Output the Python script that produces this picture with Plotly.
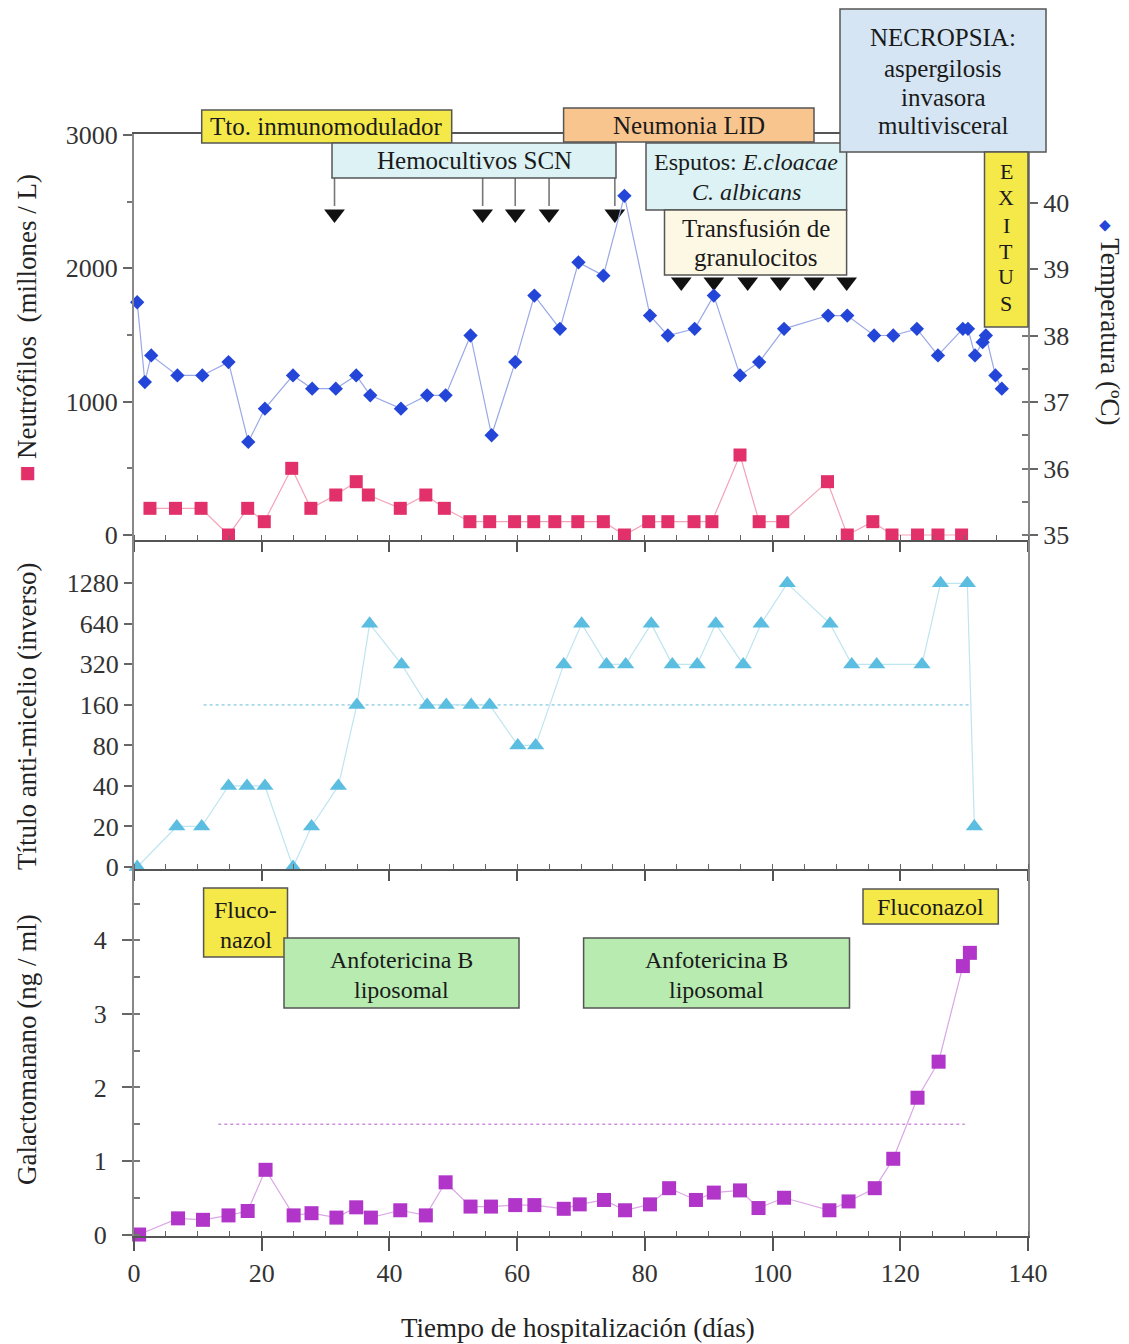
import plotly.graph_objects as go

# ---------------- DATA ----------------
# Temperatura (ºC) - panel superior, eje derecho
temp_dias = [0.5, 1.7, 2.7, 6.8, 10.7, 14.8, 17.9, 20.5, 24.9, 27.9, 31.6, 34.8, 37.0, 41.8, 45.9,
             48.8, 52.7, 56.0, 59.7, 62.7, 66.7, 69.6, 73.5, 76.8, 80.8, 83.6, 87.8, 90.8, 94.9,
             97.9, 101.8, 108.7, 111.7, 115.9, 118.9, 122.6, 125.9, 129.8, 130.6, 131.7, 132.9,
             133.4, 134.9, 135.9]
temperatura = [38.5, 37.3, 37.7, 37.4, 37.4, 37.6, 36.4, 36.9, 37.4, 37.2, 37.2, 37.4, 37.1, 36.9,
               37.1, 37.1, 38.0, 36.5, 37.6, 38.6, 38.1, 39.1, 38.9, 40.1, 38.3, 38.0, 38.1, 38.6,
               37.4, 37.6, 38.1, 38.3, 38.3, 38.0, 38.0, 38.1, 37.7, 38.1, 38.1, 37.7, 37.9, 38.0,
               37.4, 37.2]

# Neutrófilos (millones / L) - panel superior, eje izquierdo
neut_dias = [2.5, 6.5, 10.5, 14.8, 17.8, 20.4, 24.7, 27.7, 31.6, 34.8, 36.7, 41.7, 45.7, 48.6,
             52.6, 55.7, 59.6, 62.6, 65.9, 69.5, 73.5, 76.8, 80.6, 83.6, 87.7, 90.5, 94.9, 97.9,
             101.6, 108.6, 111.7, 115.7, 118.7, 122.7, 125.9, 129.6]
neutrofilos = [200, 200, 200, 0, 200, 100, 500, 200, 300, 400, 300, 200, 300, 200, 100, 100, 100,
               100, 100, 100, 100, 0, 100, 100, 100, 100, 600, 100, 100, 400, 0, 100, 0, 0, 0, 0]

# Título anti-micelio (inverso) - panel central
titulo_ticks = ["0", "20", "40", "80", "160", "320", "640", "1280"]
tit_dias = [0.5, 6.7, 10.6, 14.8, 17.7, 20.5, 24.9, 27.8, 32.0, 34.9, 36.9, 41.9, 45.9, 48.9, 52.8,
            55.7, 60.1, 62.9, 67.3, 70.1, 74.0, 77.0, 81.0, 84.3, 88.2, 91.1, 95.4, 98.2, 102.3,
            109.0, 112.4, 116.3, 123.4, 126.3, 130.5, 131.6]
titulo = ["0", "20", "20", "40", "40", "40", "0", "20", "40", "160", "640", "320", "160", "160",
          "160", "160", "80", "80", "320", "640", "320", "320", "640", "320", "320", "640", "320",
          "640", "1280", "640", "320", "320", "320", "1280", "1280", "20"]
umbral_titulo = "160"
umbral_titulo_dias = [10.9, 131.2]

# Galactomanano (ng / ml) - panel inferior
gal_dias = [0.8, 6.9, 10.8, 14.8, 17.8, 20.6, 25.0, 27.8, 31.7, 34.8, 37.1, 41.7, 45.7, 48.8, 52.7,
            55.9, 59.7, 62.7, 67.3, 69.8, 73.6, 76.9, 80.8, 83.8, 88.0, 90.8, 94.9, 97.8, 101.8,
            108.9, 111.9, 116.0, 118.9, 122.7, 126.0, 129.8, 130.9]
galactomanano = [0.0, 0.22, 0.20, 0.26, 0.32, 0.88, 0.26, 0.29, 0.23, 0.37, 0.23, 0.33, 0.26, 0.71,
                 0.38, 0.38, 0.40, 0.40, 0.35, 0.41, 0.47, 0.33, 0.41, 0.63, 0.47, 0.57, 0.60,
                 0.36, 0.50, 0.33, 0.45, 0.63, 1.03, 1.86, 2.35, 3.65, 3.83]
umbral_galacto = 1.5
umbral_galacto_dias = [13.2, 130.1]

# Eventos
hemocultivos_dias = [31.4, 54.6, 59.7, 65.0, 75.3]
transfusion_dias = [85.7, 90.8, 96.1, 101.2, 106.5, 111.6]

x_ticks = [0, 20, 40, 60, 80, 100, 120, 140]
neut_ticks = [0, 1000, 2000, 3000]
temp_ticks = [35, 36, 37, 38, 39, 40]
gal_ticks = [0, 1, 2, 3, 4]

# ---------------- LAYOUT HELPERS ----------------
FONT = "Liberation Serif, Times New Roman, serif"
W, H = 1129, 1344
L, R, T, B = 134, 1028, 134, 1236   # plot-area pixel edges


def px(x):
    return (x - L) / (R - L)


def py(y):
    return (B - y) / (B - T)


X_RANGE = [0, 140]
NEUT_RANGE = [-37.5, 3007.5]
TEMP_RANGE = [34.925, 41.03]
TIT_RANGE = [-0.05, 8.07]
GAL_RANGE = [-0.02, 4.97]
TOP_PX = (134, 540)


def neut_at(ypix):
    return NEUT_RANGE[0] + (TOP_PX[1] - ypix) / (TOP_PX[1] - TOP_PX[0]) * (NEUT_RANGE[1] - NEUT_RANGE[0])


C_TEMP = "#2446d8"
C_TEMP_L = "#9aa8e6"
C_NEUT = "#e2306a"
C_NEUT_L = "#f3a3b8"
C_TIT = "#5bbde0"
C_TIT_L = "#bfe5f0"
C_GAL = "#b035c8"
C_GAL_L = "#dba6e6"

fig = go.Figure()

fig.add_trace(go.Scatter(x=temp_dias, y=temperatura, xaxis="x", yaxis="y4", mode="lines+markers",
                         line=dict(color=C_TEMP_L, width=1.2),
                         marker=dict(symbol="diamond", size=11, color=C_TEMP),
                         cliponaxis=False, showlegend=False))
fig.add_trace(go.Scatter(x=neut_dias, y=neutrofilos, xaxis="x", yaxis="y", mode="lines+markers",
                         line=dict(color=C_NEUT_L, width=1.2),
                         marker=dict(symbol="square", size=13, color=C_NEUT),
                         cliponaxis=False, showlegend=False))
fig.add_trace(go.Scatter(x=hemocultivos_dias, y=[neut_at(214)] * len(hemocultivos_dias),
                         xaxis="x", yaxis="y", mode="markers",
                         marker=dict(symbol="triangle-down", size=18, color="#111"),
                         cliponaxis=False, showlegend=False))
fig.add_trace(go.Scatter(x=transfusion_dias, y=[neut_at(282)] * len(transfusion_dias),
                         xaxis="x", yaxis="y", mode="markers",
                         marker=dict(symbol="triangle-down", size=18, color="#111"),
                         cliponaxis=False, showlegend=False))

fig.add_trace(go.Scatter(x=umbral_titulo_dias, y=[umbral_titulo] * 2, xaxis="x2", yaxis="y2",
                         mode="lines", line=dict(color="#a6d9ea", width=1.6, dash="dot"),
                         showlegend=False))
fig.add_trace(go.Scatter(x=tit_dias, y=titulo, xaxis="x2", yaxis="y2", mode="lines+markers",
                         line=dict(color=C_TIT_L, width=1.2),
                         marker=dict(symbol="triangle-up", size=15, color=C_TIT),
                         cliponaxis=False, showlegend=False))

fig.add_trace(go.Scatter(x=umbral_galacto_dias, y=[umbral_galacto] * 2, xaxis="x3", yaxis="y3",
                         mode="lines", line=dict(color="#cf8fdc", width=1.6, dash="dot"),
                         showlegend=False))
fig.add_trace(go.Scatter(x=gal_dias, y=galactomanano, xaxis="x3", yaxis="y3", mode="lines+markers",
                         line=dict(color=C_GAL_L, width=1.2),
                         marker=dict(symbol="square", size=14, color=C_GAL),
                         cliponaxis=False, showlegend=False))

tickfont = dict(family=FONT, size=26, color="#333")
xcommon = dict(range=X_RANGE, tickvals=x_ticks, showgrid=False, zeroline=False,
               showline=True, linecolor="#555", linewidth=2,
               ticks="outside", ticklen=10, tickwidth=1.5, tickcolor="#555",
               minor=dict(dtick=5, ticks="inside", ticklen=5, tickcolor="#666", tickwidth=1.2),
               tickfont=tickfont)
ycommon = dict(showgrid=False, zeroline=False, showline=True, linecolor="#888", linewidth=2,
               ticks="outside", ticklen=9, tickwidth=1.5, tickcolor="#666", tickfont=tickfont)

fig.update_layout(
    width=W, height=H, autosize=False,
    margin=dict(l=L, r=W - R, t=T, b=H - B, pad=0),
    paper_bgcolor="white", plot_bgcolor="white",
    showlegend=False,
    xaxis=dict(xcommon, anchor="y", domain=[0, 1], showticklabels=False, mirror=True),
    yaxis=dict(ycommon, domain=[py(540), 1], anchor="x", range=NEUT_RANGE, tickvals=neut_ticks,
               minor=dict(dtick=500, ticks="outside", ticklen=5, tickcolor="#777")),
    yaxis4=dict(ycommon, overlaying="y", side="right", anchor="x", range=TEMP_RANGE,
                tickvals=temp_ticks, ticklen=8,
                minor=dict(dtick=0.5, ticks="inside", ticklen=6, tickcolor="#777")),
    xaxis2=dict(xcommon, anchor="y2", domain=[0, 1], showticklabels=False, matches="x"),
    yaxis2=dict(ycommon, domain=[py(869), py(540)], anchor="x2", type="category",
                categoryorder="array", categoryarray=titulo_ticks, range=TIT_RANGE,
                mirror=True, ticklen=8),
    xaxis3=dict(xcommon, anchor="y3", domain=[0, 1], showticklabels=True, matches="x",
                ticklen=13),
    yaxis3=dict(ycommon, domain=[0, py(869)], anchor="x3", range=GAL_RANGE, tickvals=gal_ticks,
                mirror=True, ticklen=10, ticklabelstandoff=10,
                minor=dict(dtick=0.5, ticks="inside", ticklen=6, tickcolor="#777")),
)

# ---------------- BOXES / LABELS ----------------
YEL = "#f5e94a"
CYAN = "#dcf2f4"
PEACH = "#f9c58f"
CREAM = "#fdf8e4"
LBLUE = "#d5e5f3"
GREEN = "#b7ebb0"

boxes = [
    (201.7, 451.7, 110, 143, YEL, [("Tto. inmunomodulador", 127)], 25),
    (332, 616, 143, 178, CYAN, [("Hemocultivos SCN", 160)], 25),
    (563.6, 814, 108, 142, PEACH, [("Neumonia LID", 125)], 25),
    (646, 846.6, 143, 210, CYAN, [("Esputos: <i>E.cloacae</i>", 162), ("<i>C. albicans</i>", 192)], 24),
    (664.5, 846.6, 210, 275, CREAM, [("Transfusión de", 229), ("granulocitos", 257)], 25),
    (840, 1046, 9, 152, LBLUE, [("NECROPSIA:", 38), ("aspergilosis", 68), ("invasora", 97),
                                ("multivisceral", 126)], 25),
    (984.5, 1028, 152, 327, YEL, [("E", 171), ("X", 198), ("I", 225), ("T", 251), ("U", 277),
                                  ("S", 303)], 22),
    (203.6, 287.5, 888, 957, YEL, [("Fluco-", 910), ("nazol", 940)], 24),
    (284, 519, 938, 1008, GREEN, [("Anfotericina B", 960), ("liposomal", 990)], 24),
    (583.6, 849.5, 938, 1008, GREEN, [("Anfotericina B", 960), ("liposomal", 990)], 24),
    (863, 998.3, 889, 924, YEL, [("Fluconazol", 907)], 24),
]

shapes = []
annotations = []

# connectors from "Hemocultivos SCN" box to its arrows
for d in hemocultivos_dias:
    shapes.append(dict(type="line", xref="x", yref="paper", x0=d, x1=d, y0=py(178), y1=py(206),
                       line=dict(color="#777", width=1.6), layer="above"))

for x0, x1, y0, y1, fill, lines, fs in boxes:
    shapes.append(dict(type="rect", xref="paper", yref="paper", x0=px(x0), x1=px(x1),
                       y0=py(y1), y1=py(y0), fillcolor=fill,
                       line=dict(color="#555", width=1.5), layer="above"))
    for txt, ly in lines:
        annotations.append(dict(xref="paper", yref="paper", x=px((x0 + x1) / 2), y=py(ly),
                                text=txt, showarrow=False, xanchor="center", yanchor="middle",
                                font=dict(family=FONT, size=fs, color="#1a1a1a")))

title_font = dict(family=FONT, size=27, color="#222")
annotations += [
    dict(xref="paper", yref="paper", x=px(27), y=py(328), textangle=-90, showarrow=False,
         text=f'<span style="color:{C_NEUT}">■</span> Neutrófilos&nbsp; (millones / L)',
         font=title_font, xanchor="center", yanchor="middle"),
    dict(xref="paper", yref="paper", x=px(1110), y=py(322), textangle=90, showarrow=False,
         text=f'<span style="color:{C_TEMP};font-size:15px">◆</span> Temperatura (ºC)',
         font=title_font, xanchor="center", yanchor="middle"),
    dict(xref="paper", yref="paper", x=px(27), y=py(717), textangle=-90, showarrow=False,
         text="Título anti-micelio (inverso)", font=title_font, xanchor="center", yanchor="middle"),
    dict(xref="paper", yref="paper", x=px(27), y=py(1050), textangle=-90, showarrow=False,
         text="Galactomanano (ng / ml)", font=title_font, xanchor="center", yanchor="middle"),
    dict(xref="paper", yref="paper", x=px(578), y=py(1328), showarrow=False,
         text="Tiempo de hospitalización (días)", font=title_font, xanchor="center",
         yanchor="middle"),
]

fig.update_layout(shapes=shapes, annotations=annotations)

fig.write_html("out.html", config={"displayModeBar": False},
               post_script="document.body.style.margin='0px';")
